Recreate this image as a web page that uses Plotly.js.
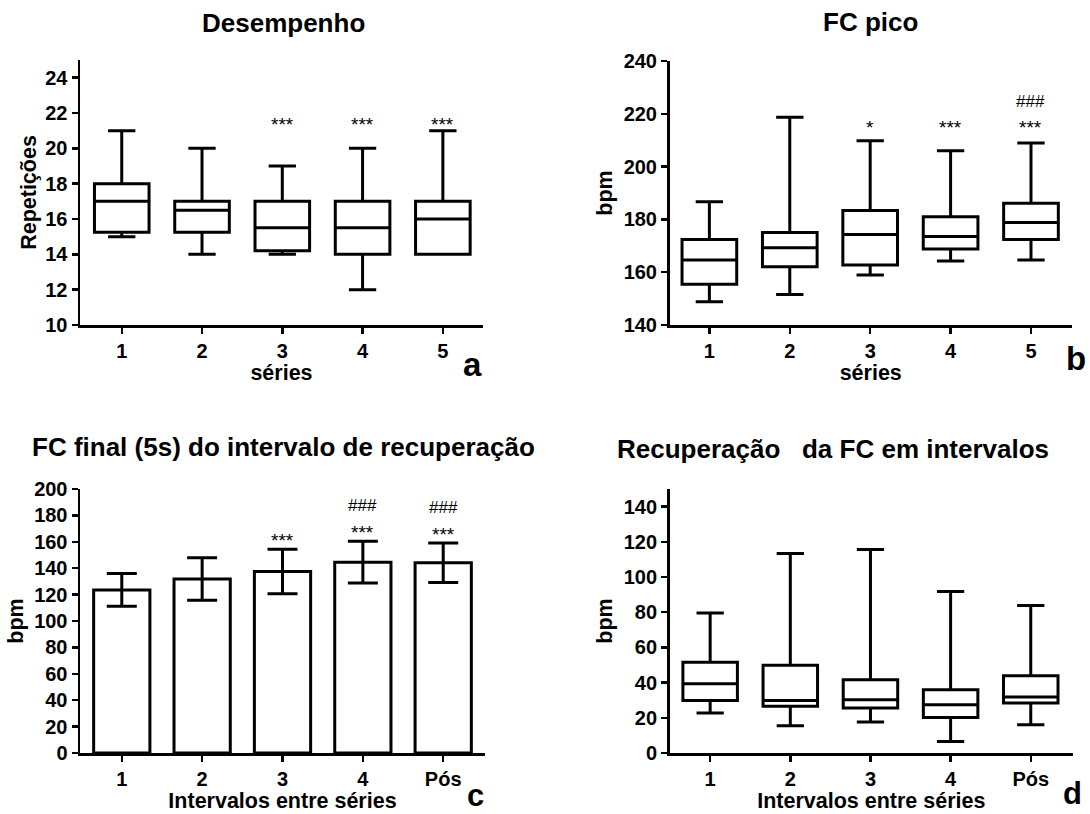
<!DOCTYPE html>
<html>
<head>
<meta charset="utf-8">
<script src="https://cdn.plot.ly/plotly-3.0.1.min.js"></script>
<style>html,body{margin:0;padding:0;background:#fff;}#chart{width:1090px;height:814px;}</style>
</head>
<body>
<div id="chart"></div>
<script>
// ---- Data ----
const seriesCats = ['1', '2', '3', '4', '5'];
const intervalCats = ['1', '2', '3', '4', 'Pós'];

// (a) Desempenho – repetições
const repMin = [15, 14, 14, 12, 14];
const repQ1 = [15.25, 15.25, 14.2, 14, 14];
const repMed = [17, 16.5, 15.5, 15.5, 16];
const repQ3 = [18, 17, 17, 17, 17];
const repMax = [21, 20, 19, 20, 21];
const repStars = ['', '', '***', '***', '***'];

// (b) FC pico – bpm
const picoMin = [148.8, 151.6, 158.9, 164.2, 164.6];
const picoQ1 = [155.4, 162.1, 162.7, 168.8, 172.4];
const picoMed = [164.6, 169.3, 174.3, 173.5, 178.8];
const picoQ3 = [172.4, 175, 183.4, 181, 186.1];
const picoMax = [186.7, 218.7, 209.8, 206, 208.9];
const picoStars = ['', '', '*', '***', '***'];
const picoHash = ['', '', '', '', '###'];

// (c) FC final (5s) – média ± DP
const finalMean = [123.5, 131.9, 137.5, 144.6, 144.1];
const finalSD = [12.4, 16.1, 16.9, 15.9, 15.0];
const finalStars = ['', '', '***', '***', '***'];
const finalHash = ['', '', '', '###', '###'];

// (d) Recuperação da FC
const recMin = [22.7, 15.5, 17.6, 6.6, 16.1];
const recQ1 = [29.9, 26.5, 25.5, 20.2, 28.4];
const recMed = [39.3, 29.9, 30.3, 27.4, 31.8];
const recQ3 = [51.5, 49.9, 41.6, 35.9, 43.9];
const recMax = [79.5, 113.3, 115.6, 91.8, 83.8];

// ---- Styles ----
const FONT = 'Liberation Sans, Arial, sans-serif';
const W = 1090, H = 814;
const px = v => v / W;
const py = v => 1 - v / H;

function boxTrace(x, lo, q1, med, q3, hi, xa, ya) {
  return {
    type: 'box', x: x, lowerfence: lo, q1: q1, median: med, q3: q3, upperfence: hi,
    xaxis: xa, yaxis: ya, boxpoints: false, width: 0.68, whiskerwidth: 0.5,
    fillcolor: '#ffffff', line: {color: '#000000', width: 3}, hoverinfo: 'skip', showlegend: false
  };
}

const traces = [
  boxTrace(seriesCats, repMin, repQ1, repMed, repQ3, repMax, 'x', 'y'),
  boxTrace(seriesCats, picoMin, picoQ1, picoMed, picoQ3, picoMax, 'x2', 'y2'),
  {
    type: 'bar', x: intervalCats, y: finalMean, xaxis: 'x3', yaxis: 'y3', width: 0.7,
    marker: {color: '#ffffff', line: {color: '#000000', width: 3}},
    error_y: {type: 'data', array: finalSD, visible: true, color: '#000000', thickness: 3, width: 15},
    showlegend: false, hoverinfo: 'skip'
  },
  boxTrace(intervalCats, recMin, recQ1, recMed, recQ3, recMax, 'x4', 'y4')
];

const TICKFONT = {family: FONT, size: 20, color: '#000', weight: 'bold'};
const AXTITLEFONT = {family: FONT, size: 21.5, color: '#000', weight: 'bold'};

function xAxis(domain, range, anchor, title, standoff) {
  return {
    domain: domain, anchor: anchor, type: 'category', range: range,
    showline: true, linecolor: '#000', linewidth: 2.5, mirror: false,
    ticks: 'outside', ticklen: 6, tickwidth: 2.5, tickcolor: '#000',
    showgrid: false, zeroline: false, tickfont: TICKFONT,
    title: {text: title, font: AXTITLEFONT, standoff: standoff}
  };
}
function yAxis(domain, range, anchor, dtick, title, standoff) {
  return {
    domain: domain, anchor: anchor, range: range, dtick: dtick, tick0: 0,
    showline: true, linecolor: '#000', linewidth: 2.5,
    ticks: 'outside', ticklen: 6, tickwidth: 2.5, tickcolor: '#000',
    showgrid: false, zeroline: false, tickfont: TICKFONT,
    title: {text: title, font: AXTITLEFONT, standoff: standoff}
  };
}

const annotations = [];
function addText(text, x, y, size, xref, yref, extra, weight, color) {
  annotations.push(Object.assign({
    text: text, x: x, y: y, xref: xref || 'paper', yref: yref || 'paper',
    showarrow: false, font: {family: FONT, size: size, color: color || '#000', weight: weight || 'bold'},
    xanchor: 'center', yanchor: 'middle'
  }, extra || {}));
}

// Panel titles
addText('Desempenho', px(283), py(23), 26);
addText('FC pico', px(870), py(22), 26);
addText('FC final (5s) do intervalo de recuperação', px(283), py(447), 26);
addText('Recuperação&nbsp;&nbsp; da FC em intervalos', px(833), py(449), 26);
// Panel letters
addText('a', px(472), py(364), 33);
addText('b', px(1076), py(358), 33);
addText('c', px(475), 0, 31, null, null, {yanchor: 'bottom', borderpad: 0});
addText('d', px(1072), 0, 31, null, null, {yanchor: 'bottom', borderpad: 0, yshift: 2});

// Significance marks (x given as category index)
seriesCats.forEach((c, i) => {
  if (repStars[i]) addText(repStars[i], i, 21.6, 19, 'x', 'y', {yshift: -4}, 'normal');
  if (picoStars[i]) addText(picoStars[i], i, 216.4, 19, 'x2', 'y2', {yshift: -4}, 'normal');
  if (picoHash[i]) addText(picoHash[i], i, 224.6, 17, 'x2', 'y2', {}, 'normal');
});
intervalCats.forEach((c, i) => {
  const top = finalMean[i] + finalSD[i];
  if (finalStars[i]) addText(finalStars[i], i, top + 9.5, 19, 'x3', 'y3', {yshift: -4}, 'normal');
  if (finalHash[i]) addText(finalHash[i], i, top + 27, 17, 'x3', 'y3', {}, 'normal');
});

const layout = {
  width: W, height: H, margin: {l: 0, r: 0, t: 0, b: 0},
  paper_bgcolor: '#fff', plot_bgcolor: '#fff', showlegend: false,
  font: {family: FONT, color: '#000'},
  xaxis: xAxis([px(80), px(483)], [-0.52, 4.5], 'y', 'séries', 4),
  yaxis: yAxis([py(325), py(60)], [10, 25], 'x', 2, 'Repetições', 3),
  xaxis2: xAxis([px(669.5), px(1072)], [-0.496, 4.51], 'y2', 'séries', 4),
  yaxis2: yAxis([py(325), py(61)], [140, 240], 'x2', 20, 'bpm', 5),
  xaxis3: xAxis([px(80), px(485)], [-0.52, 4.52], 'y3', 'Intervalos entre séries', 4),
  yaxis3: yAxis([py(753), py(489)], [0, 200], 'x3', 20, 'bpm', 5),
  xaxis4: xAxis([px(669.6), px(1073)], [-0.506, 4.527], 'y4', 'Intervalos entre séries', 4),
  yaxis4: yAxis([py(753), py(489)], [0, 150], 'x4', 20, 'bpm', 5),
  annotations: annotations
};

Plotly.newPlot('chart', traces, layout, {displayModeBar: false, staticPlot: true});
</script>
</body>
</html>
